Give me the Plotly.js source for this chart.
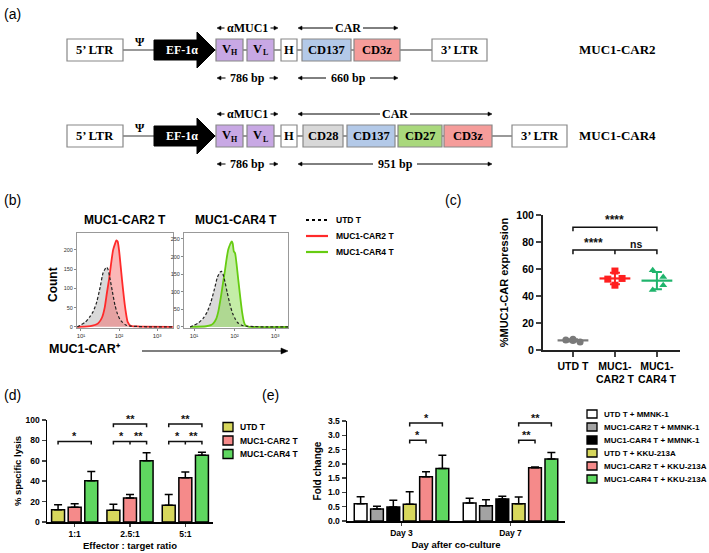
<!DOCTYPE html>
<html><head><meta charset="utf-8">
<script src="https://cdn.plot.ly/plotly-3.0.1.min.js"></script>
<style>html,body{margin:0;padding:0;background:#fff}#chart{width:709px;height:553px}</style>
</head><body><div id="chart"></div>
<script>
// ================= DATA =================
// (a) vector constructs ([main text, subscript])
const constructNames = ["MUC1-CAR2", "MUC1-CAR4"];
const car2Parts = [["V", "H"], ["V", "L"], ["H", ""], ["CD137", ""], ["CD3z", ""]];
const car4Parts = [["V", "H"], ["V", "L"], ["H", ""], ["CD28", ""], ["CD137", ""], ["CD27", ""], ["CD3z", ""]];
const scfvSizes = ["786 bp", "786 bp"];
const carSizes = ["660 bp", "951 bp"];

// (b) flow-cytometry histograms (fluorescence, count)
const histTitles = ["MUC1-CAR2 T", "MUC1-CAR4 T"];
const histLegend = ["UTD T", "MUC1-CAR2 T", "MUC1-CAR4 T"];
const histTickText = ["10¹", "10²", "10³"];
const utd1X = [8, 10, 13, 17, 21, 26, 32, 38, 44, 48, 52, 58, 66, 78, 90, 105, 120, 150, 200, 300, 600, 2600];
const utd1Y = [0, 5, 12, 26, 40, 65, 104, 140, 152, 155, 148, 125, 95, 57, 35, 20, 13, 5, 2, 1, 0, 0];
const car2X = [8, 15, 20, 25, 30, 36, 42, 48, 55, 62, 70, 78, 85, 92, 100, 110, 120, 135, 150, 170, 200, 300, 2600];
const car2Y = [0, 1, 3, 6, 12, 25, 50, 88, 125, 165, 200, 215, 225, 222, 200, 160, 122, 75, 40, 12, 3, 1, 0];
const utd2X = [8, 10, 13, 17, 21, 26, 32, 38, 44, 48, 52, 58, 66, 78, 90, 105, 120, 150, 200, 300, 600, 2600];
const utd2Y = [0, 5, 12, 25, 42, 70, 108, 142, 156, 158, 150, 128, 98, 62, 38, 22, 12, 5, 2, 1, 0, 0];
const car4X = [8, 20, 26, 30, 35, 40, 46, 52, 58, 64, 70, 78, 85, 90, 96, 103, 112, 124, 140, 155, 170, 185, 220, 2600];
const car4Y = [0, 2, 5, 10, 22, 45, 85, 125, 160, 195, 220, 235, 243, 238, 215, 210, 180, 133, 80, 40, 15, 5, 1, 0];

// (c) % MUC1-CAR expression
const cCategories = ["UTD T", "MUC1-<br>CAR2 T", "MUC1-<br>CAR4 T"];
const cUTD = [8, 7.5, 6, 7];
const cCAR2 = [58.5, 52.5, 53, 48];
const cCAR4 = [59, 54, 48, 44.5];

// (d) % specific lysis
const dRatios = ["1:1", "2.5:1", "5:1"];
const dNames = ["UTD T", "MUC1-CAR2 T", "MUC1-CAR4 T"];
const dUTD = [12, 11.5, 16.5];
const dUTDsd = [5, 6, 10.5];
const dCAR2 = [14.5, 23.5, 43.5];
const dCAR2sd = [3.5, 3.5, 5.5];
const dCAR4 = [40.5, 60, 65.5];
const dCAR4sd = [9, 8, 3];

// (e) fold change
const eDays = ["Day 3", "Day 7"];
const eNames = ["UTD T + MMNK-1", "MUC1-CAR2 T + MMNK-1", "MUC1-CAR4 T + MMNK-1",
                "UTD T + KKU-213A", "MUC1-CAR2 T + KKU-213A", "MUC1-CAR4 T + KKU-213A"];
const eUTDmm = [0.6, 0.63];   const eUTDmmSd = [0.25, 0.17];
const eCAR2mm = [0.42, 0.53]; const eCAR2mmSd = [0.1, 0.21];
const eCAR4mm = [0.49, 0.77]; const eCAR4mmSd = [0.24, 0.1];
const eUTDkk = [0.59, 0.6];   const eUTDkkSd = [0.43, 0.24];
const eCAR2kk = [1.55, 1.86]; const eCAR2kkSd = [0.17, 0.03];
const eCAR4kk = [1.84, 2.17]; const eCAR4kkSd = [0.46, 0.23];

// ================= STYLE / LAYOUT HELPERS =================
const W = 709, H = 553;
const X = p => p / W;
const Y = p => 1 - p / H;
const SANS = "Liberation Sans, Arial, sans-serif";
const SERIF = "Liberation Serif, Times New Roman, serif";

const shapes = [];
const annotations = [];
function text(x, y, t, size, opts) {
  opts = opts || {};
  annotations.push(Object.assign({
    x: X(x), y: Y(y), xref: "paper", yref: "paper", text: t, showarrow: false,
    xanchor: "center", yanchor: "middle",
    font: {family: opts.family || SANS, size: size, color: opts.color || "#000", weight: opts.weight || "bold"}
  }, opts.extra || {}));
}
function linePx(x0, y0, x1, y1, color, w, dash) {
  shapes.push({type: "line", xref: "paper", yref: "paper", x0: X(x0), x1: X(x1), y0: Y(y0), y1: Y(y1),
    line: {color: color, width: w, dash: dash || "solid"}});
}
function arrow(x0, x1, y, opts) {  // horizontal arrow: tail x0, head x1 (pixels)
  opts = opts || {};
  const L = opts.len || 4, hw = opts.hw || 2, w = opts.width || 1;
  const dir = Math.sign(x1 - x0);
  linePx(x0, y, x1 - dir * (L - 1), y, "#000", w);
  shapes.push({type: "path", xref: "paper", yref: "paper", fillcolor: "#000", line: {color: "#000", width: 0.5},
    path: `M${X(x1)},${Y(y)} L${X(x1 - dir * L)},${Y(y - hw)} L${X(x1 - dir * L)},${Y(y + hw)} Z`});
}
function rectPx(x0, y0, x1, y1, fill, line, lw) {
  shapes.push({type: "rect", xref: "paper", yref: "paper", x0: X(x0), x1: X(x1), y0: Y(y1), y1: Y(y0),
    fillcolor: fill, line: {color: line, width: lw === undefined ? 1.2 : lw}});
}

// ---------- (a) diagram geometry ----------
const partColor = {"VH": "#c8a8e4", "VL": "#c8a8e4", "H": "#ffffff",
  "CD28": "#d8d8d8", "CD137": "#b3c9e8", "CD27": "#a9d87c", "CD3z": "#f59c9a"};
const rowsGeom = [
  {cy: 50, labelY: 28, sizeY: 78, parts: car2Parts, sizes: [scfvSizes[0], carSizes[0]],
   partX: [[216, 243], [247, 274], [281, 297], [302, 351], [354, 400]], ltr3: [432, 487], carSpan: [298, 398]},
  {cy: 136, labelY: 114, sizeY: 164, parts: car4Parts, sizes: [scfvSizes[1], carSizes[1]],
   partX: [[216, 243], [247, 274], [281, 297], [303, 343], [347, 395], [398, 442], [444, 492]], ltr3: [512, 567], carSpan: [298, 492]}
];
const SF = 12.5;
rowsGeom.forEach((r, i) => {
  const top = r.cy - 11, bot = r.cy + 11;
  linePx(123, r.cy, r.ltr3[0], r.cy, "#777", 1.5);
  rectPx(67, top, 123, bot, "#fff", "#888");
  text(95, r.cy, "5’ LTR", SF, {family: SERIF});
  text(140, r.cy - 8, "Ψ", 12, {family: SERIF});
  // EF-1α promoter arrow
  const ax0 = 154, ax1 = 197, tip = 215, bt = r.cy - 10, bb = r.cy + 10, ht = r.cy - 18, hb = r.cy + 18;
  shapes.push({type: "path", xref: "paper", yref: "paper", fillcolor: "#000", line: {color: "#000", width: 1},
    path: `M${X(ax0)},${Y(bt)} L${X(ax1)},${Y(bt)} L${X(ax1)},${Y(ht)} L${X(tip)},${Y(r.cy)} L${X(ax1)},${Y(hb)} L${X(ax1)},${Y(bb)} L${X(ax0)},${Y(bb)} Z`});
  text(182, r.cy, "EF-1α", 12, {family: SERIF, color: "#fff"});
  r.parts.forEach((p, k) => {
    const [x0, x1] = r.partX[k];
    const key = p[0] + p[1];
    rectPx(x0, top, x1, bot, partColor[key], "#888");
    const mid = (x0 + x1) / 2;
    if (p[1]) {
      text(mid - 3, r.cy - 0.5, p[0], SF, {family: SERIF});
      text(mid + 5, r.cy + 3, p[1], 8, {family: SERIF});
    } else {
      text(mid, r.cy, p[0], SF, {family: SERIF});
    }
  });
  rectPx(r.ltr3[0], top, r.ltr3[1], bot, "#fff", "#888");
  text((r.ltr3[0] + r.ltr3[1]) / 2, r.cy, "3’ LTR", SF, {family: SERIF});
  text(617, r.cy, constructNames[i], 13, {family: SERIF});
  // scFv and CAR span markers
  const sc = [217, 278], cx = (sc[0] + sc[1]) / 2;
  text(cx, r.labelY, "αMUC1", 12, {family: SERIF});
  arrow(cx - 23, sc[0], r.labelY); arrow(cx + 23, sc[1], r.labelY);
  text(cx, r.sizeY, r.sizes[0], 12, {family: SERIF});
  arrow(cx - 22, sc[0], r.sizeY); arrow(cx + 22, sc[1], r.sizeY);
  const cc = (r.carSpan[0] + r.carSpan[1]) / 2;
  text(cc, r.labelY, "CAR", 12, {family: SERIF});
  arrow(cc - 15, r.carSpan[0], r.labelY); arrow(cc + 15, r.carSpan[1], r.labelY);
  text(cc, r.sizeY, r.sizes[1], 12, {family: SERIF});
  arrow(cc - 22, r.carSpan[0], r.sizeY); arrow(cc + 22, r.carSpan[1], r.sizeY);
});

// panel letters
[["(a)", 12, 14], ["(b)", 12, 200], ["(c)", 453, 200], ["(d)", 12, 395], ["(e)", 270, 395]].forEach(l =>
  text(l[1], l[2], l[0], 14, {weight: "normal"}));

// ---------- (b) decorations ----------
text(125, 220, histTitles[0], 12);
text(236, 220, histTitles[1], 12);
text(53, 284, "Count", 12, {extra: {textangle: -90}});
text(47, 349, "MUC1-CAR⁺", 12.5, {extra: {xanchor: "left"}});
arrow(142, 288, 351, {len: 7, hw: 3, width: 1.2});
const histLegColors = ["#000", "#ff2a2a", "#66cc11"];
histLegend.forEach((n, i) => {
  const yy = 220 + i * 16;
  linePx(306, yy, 328, yy, histLegColors[i], 2.2, i === 0 ? "3px,3px" : "solid");
  text(334, yy, n, 8.5, {extra: {xanchor: "left"}});
});

// ---------- traces ----------
const traces = [];
function histPair(xu, yu, xc, yc, xa, ya, col, fill) {
  traces.push({x: xu, y: yu, xaxis: xa, yaxis: ya, type: "scatter", mode: "lines", fill: "tozeroy",
    fillcolor: "rgba(185,185,185,0.55)", line: {width: 0, shape: "spline", smoothing: 0.6}, showlegend: false, hoverinfo: "skip"});
  traces.push({x: xc, y: yc, xaxis: xa, yaxis: ya, type: "scatter", mode: "lines", fill: "tozeroy",
    fillcolor: fill, line: {color: col, width: 1.8, shape: "spline", smoothing: 0.6}, showlegend: false});
  traces.push({x: xu, y: yu, xaxis: xa, yaxis: ya, type: "scatter", mode: "lines",
    line: {color: "#222", width: 1.2, dash: "3px,2px", shape: "spline", smoothing: 0.6}, showlegend: false});
}
histPair(utd1X, utd1Y, car2X, car2Y, "x4", "y4", "#ff2a2a", "rgba(245,95,95,0.45)");
histPair(utd2X, utd2Y, car4X, car4Y, "x5", "y5", "#66cc11", "rgba(125,215,60,0.45)");

// (c) dot plot
const cJitter = [[0.0, -0.17, 0.17, 0.0], [0.0, -0.17, 0.17, 0.0], [-0.1, 0.15, 0.15, -0.1]];
const cSeries = [cUTD, cCAR2, cCAR4];
const cColors = ["#7a7a7a", "#ff1f1f", "#1fb46c"];
const cSymbols = ["circle", "square", "triangle-up"];
const mean = a => a.reduce((s, v) => s + v, 0) / a.length;
const sd = a => { const m = mean(a); return Math.sqrt(a.reduce((s, v) => s + (v - m) * (v - m), 0) / (a.length - 1)); };
cSeries.forEach((vals, g) => {
  traces.push({x: vals.map((v, k) => g + cJitter[g][k]), y: vals, xaxis: "x3", yaxis: "y3", type: "scatter", mode: "markers",
    marker: {color: cColors[g], size: 7, symbol: cSymbols[g]}, showlegend: false});
  traces.push({x: [g], y: [mean(vals)], xaxis: "x3", yaxis: "y3", type: "scatter", mode: "markers",
    marker: {symbol: "line-ew", size: 22, line: {color: cColors[g], width: 2.2}},
    error_y: {type: "data", array: [sd(vals)], color: cColors[g], thickness: 2, width: 5}, showlegend: false});
});

// (d) bars
const dVals = [dUTD, dCAR2, dCAR4], dSds = [dUTDsd, dCAR2sd, dCAR4sd];
const dColors = ["#d7d75c", "#f58a8a", "#5fd760"];
dVals.forEach((v, j) => traces.push({type: "bar", x: dRatios, y: v, name: dNames[j], xaxis: "x", yaxis: "y",
  marker: {color: dColors[j], line: {color: "#000", width: 1.5}},
  error_y: {type: "data", array: dSds[j], arrayminus: v.map(() => 0), symmetric: false, color: "#000", thickness: 1.5, width: 4},
  showlegend: false}));

// (e) bars
const eVals = [eUTDmm, eCAR2mm, eCAR4mm, eUTDkk, eCAR2kk, eCAR4kk];
const eSds = [eUTDmmSd, eCAR2mmSd, eCAR4mmSd, eUTDkkSd, eCAR2kkSd, eCAR4kkSd];
const eColors = ["#ffffff", "#a3a3a3", "#000000", "#d7d75c", "#f58a8a", "#5fd760"];
eVals.forEach((v, j) => traces.push({type: "bar", x: eDays, y: v, name: eNames[j], xaxis: "x2", yaxis: "y2",
  marker: {color: eColors[j], line: {color: "#000", width: 1.5}},
  error_y: {type: "data", array: eSds[j], arrayminus: v.map(() => 0), symmetric: false, color: "#000", thickness: 1.5, width: 4},
  showlegend: false}));

// ---------- legends for (d) and (e) ----------
dNames.forEach((n, j) => {
  const yy = 427 + j * 13.5;
  rectPx(223, yy - 4.5, 233, yy + 4.5, dColors[j], "#000", 1.3);
  text(238, yy, n, 8.5, {extra: {xanchor: "left"}});
});
eNames.forEach((n, j) => {
  const yy = 414 + j * 13;
  rectPx(587, yy - 4, 597, yy + 4, eColors[j], "#000", 1.3);
  text(602, yy, n, 8, {extra: {xanchor: "left"}});
});

// ---------- significance brackets ----------
const BARGAP = 0.1, BARGROUPGAP = 0.22;
const barCenter = (cat, j, n) => cat - (1 - BARGAP) / 2 + (j + 0.5) * (1 - BARGAP) / n;
function bracket(xa, ya, pts, y, tick) {
  let p = `M${pts[0]},${y - tick} L${pts[0]},${y} L${pts[pts.length - 1]},${y} L${pts[pts.length - 1]},${y - tick}`;
  for (let k = 1; k < pts.length - 1; k++) p += ` M${pts[k]},${y} L${pts[k]},${y - tick}`;
  shapes.push({type: "path", xref: xa, yref: ya, path: p, line: {color: "#111", width: 1.5}});
}
function sigText(xa, ya, x, y, t, size) {
  annotations.push({x: x, y: y, xref: xa, yref: ya, text: t, showarrow: false, yanchor: "bottom", yshift: -3,
    font: {family: SANS, size: size, weight: "bold", color: "#111"}});
}
// (d)
bracket("x", "y", [barCenter(0, 0, 3), barCenter(0, 2, 3)], 79, 3);
sigText("x", "y", barCenter(0, 1, 3), 79, "*", 11);
[1, 2].forEach(g => {
  bracket("x", "y", [barCenter(g, 0, 3), barCenter(g, 2, 3)], 96, 3);
  sigText("x", "y", barCenter(g, 1, 3), 96, "**", 11);
  bracket("x", "y", [barCenter(g, 0, 3), barCenter(g, 1, 3), barCenter(g, 2, 3)], 79, 3);
  sigText("x", "y", (barCenter(g, 0, 3) + barCenter(g, 1, 3)) / 2, 79, "*", 11);
  sigText("x", "y", (barCenter(g, 1, 3) + barCenter(g, 2, 3)) / 2, 79, "**", 11);
});
// (e)
[[0, "*"], [1, "**"]].forEach(([g, s]) => {
  bracket("x2", "y2", [barCenter(g, 3, 6), barCenter(g, 4, 6)], 2.83, 0.12);
  sigText("x2", "y2", (barCenter(g, 3, 6) + barCenter(g, 4, 6)) / 2, 2.83, s, 11);
  bracket("x2", "y2", [barCenter(g, 3, 6), barCenter(g, 5, 6)], 3.43, 0.12);
  sigText("x2", "y2", (barCenter(g, 3, 6) + barCenter(g, 5, 6)) / 2, 3.43, s, 11);
});
// (c)
bracket("x3", "y3", [0, 1, 2], 74, 3);
sigText("x3", "y3", 0.5, 74.5, "****", 12);
sigText("x3", "y3", 1.5, 75, "ns", 10.5);
bracket("x3", "y3", [0, 2], 91, 3);
sigText("x3", "y3", 1, 91.5, "****", 12);

// ================= LAYOUT =================
const tf = (s) => ({family: SANS, size: s, color: "#000", weight: "bold"});
const histX = (dom, rng) => ({domain: [X(dom[0]), X(dom[1])], type: "log", range: rng, tickvals: [10, 100, 1000],
  ticktext: histTickText, tickfont: {family: SANS, size: 6, color: "#333"},
  ticks: "outside", ticklen: 2, tickcolor: "#888", showline: true, mirror: true, linecolor: "#999", linewidth: 1,
  showgrid: false, zeroline: false, fixedrange: true});
const histY = (rng, anchor) => ({domain: [Y(328), Y(233)], range: rng, tickvals: [0, 50, 100, 150, 200, 250],
  tickfont: {family: SANS, size: 5.5, color: "#333"}, ticks: "outside", ticklen: 2, tickcolor: "#888",
  showline: true, mirror: true, linecolor: "#999", linewidth: 1, showgrid: false, zeroline: false, anchor: anchor});

const layout = {
  width: W, height: H, margin: {l: 0, r: 0, t: 0, b: 0}, paper_bgcolor: "#fff", plot_bgcolor: "rgba(0,0,0,0)",
  showlegend: false, barmode: "group", bargap: BARGAP, bargroupgap: BARGROUPGAP,
  font: {family: SANS},
  // (d)
  xaxis: {domain: [X(47), X(213)], anchor: "y", type: "category", range: [-0.5, 2.5], tickfont: tf(8.5),
    ticks: "outside", ticklen: 3, tickwidth: 1.5, showline: true, linewidth: 1.5, linecolor: "#000",
    title: {text: "Effector : target ratio", font: tf(9.5), standoff: 4}},
  yaxis: {domain: [Y(522), Y(420)], anchor: "x", range: [0, 100], dtick: 20, tickfont: tf(8.5),
    ticks: "outside", ticklen: 4, tickwidth: 1.5, showline: true, linewidth: 1.5, linecolor: "#000",
    showgrid: false, zeroline: false, title: {text: "% specific lysis", font: tf(9.5), standoff: 2}},
  // (e)
  xaxis2: {domain: [X(347), X(565)], anchor: "y2", type: "category", range: [-0.5, 1.5], tickfont: tf(8.5),
    ticks: "outside", ticklen: 3, tickwidth: 1.5, showline: true, linewidth: 1.5, linecolor: "#000",
    title: {text: "Day after co-culture", font: tf(9.5), standoff: 4}},
  yaxis2: {domain: [Y(521), Y(421)], anchor: "x2", range: [0, 3.5], dtick: 0.5, tickformat: ".1f", tickfont: tf(8.5),
    ticks: "outside", ticklen: 4, tickwidth: 1.5, showline: true, linewidth: 1.5, linecolor: "#000",
    showgrid: false, zeroline: false, title: {text: "Fold change", font: tf(10), standoff: 4}},
  // (c)
  xaxis3: {domain: [X(543), X(680)], anchor: "y3", range: [-0.714, 2.55], tickvals: [0, 1, 2], ticktext: cCategories,
    tickfont: tf(10.5), ticks: "outside", ticklen: 5, tickwidth: 2, showline: true, linewidth: 2, linecolor: "#222",
    showgrid: false, zeroline: false},
  yaxis3: {domain: [Y(350), Y(215)], anchor: "x3", range: [0, 100], dtick: 20, tickfont: tf(10.5),
    ticks: "outside", ticklen: 5, tickwidth: 2, showline: true, linewidth: 2, linecolor: "#222",
    showgrid: false, zeroline: false, title: {text: "%MUC1-CAR expression", font: tf(11), standoff: 6}},
  // (b)
  xaxis4: Object.assign(histX([77, 173], [0.895, 3.42]), {anchor: "y4"}),
  yaxis4: histY([-3, 244], "x4"),
  xaxis5: Object.assign(histX([184, 288], [0.753, 3.32]), {anchor: "y5"}),
  yaxis5: histY([-3, 267], "x5"),
  shapes: shapes, annotations: annotations
};

Plotly.newPlot("chart", traces, layout, {staticPlot: true, displayModeBar: false});
</script>
</body></html>
